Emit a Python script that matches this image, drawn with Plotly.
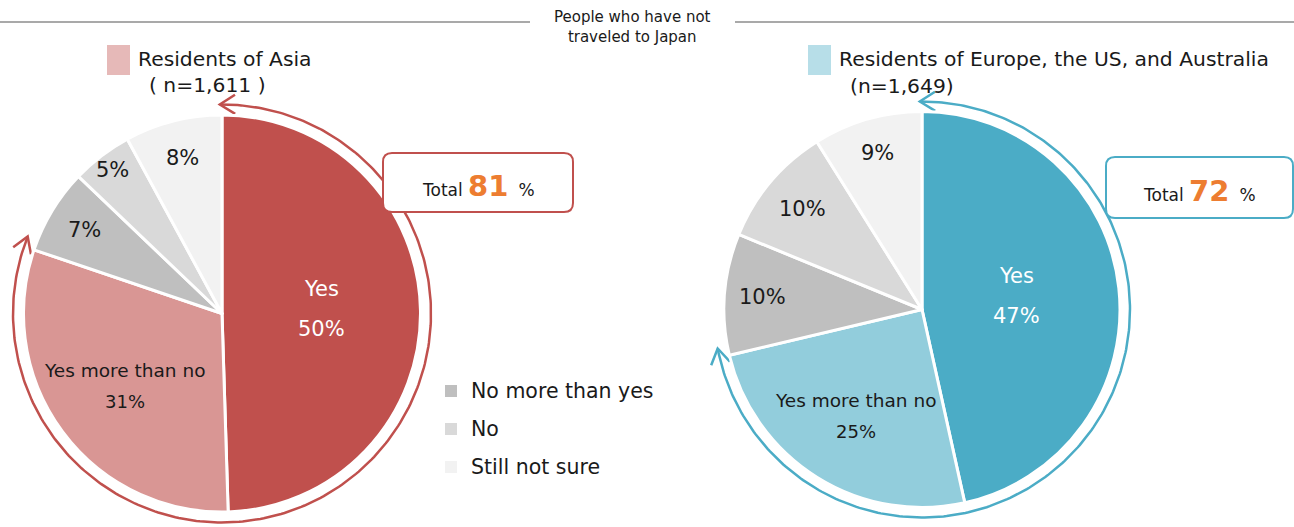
import numpy as np
import plotly.graph_objects as go

W, H = 1294, 527

# ---- data ----
labels = ['Yes', 'Yes more than no', 'No more than yes', 'No', 'Still not sure']
asia_vals = [50, 31, 7, 5, 8]
euro_vals = [47, 25, 10, 10, 9]
asia_total = 81
euro_total = 72
asia_title = 'Residents of Asia'
euro_title = 'Residents of Europe, the US, and Australia'
asia_n = '( n=1,611 )'
euro_n = '(n=1,649)'
header = 'People who have not<br>traveled to Japan'
legend_labels = labels[2:]

# ---- styles ----
FONT = 'DejaVu Sans'
grays = ['#BFBFBF', '#D9D9D9', '#F2F2F2']
asia_cols = ['#C0504D', '#D99694'] + grays
euro_cols = ['#4BACC6', '#92CDDC'] + grays
asia_key = '#E6B9B8'
euro_key = '#B7DEE8'
orange = '#ED7D31'
ink = '#1a1a1a'

pies = [
    dict(vals=asia_vals, cols=asia_cols, cx=222, cy=313.5, r=198.5, arc_r=209,
         total=asia_total, frac=[0.5, 0.61, 0.81, 0.91, 0.81],
         box=(383, 153, 573, 212)),
    dict(vals=euro_vals, cols=euro_cols, cx=922, cy=309.5, r=198, arc_r=208,
         total=euro_total, frac=[0.48, 0.63, 0.81, 0.79, 0.82],
         box=(1106, 157, 1293, 218)),
]


def dom(cx, cy, r):
    return dict(x=[(cx - r) / W, (cx + r) / W],
                y=[1 - (cy + r) / H, 1 - (cy - r) / H])


def rounded_box(x0, y0, x1, y1, rad=9):
    return (f'M{x0+rad},{y0} L{x1-rad},{y0} Q{x1},{y0} {x1},{y0+rad} '
            f'L{x1},{y1-rad} Q{x1},{y1} {x1-rad},{y1} L{x0+rad},{y1} '
            f'Q{x0},{y1} {x0},{y1-rad} L{x0},{y0+rad} Q{x0},{y0} {x0+rad},{y0} Z')


fig = go.Figure()
annotations = []
shapes = []

for p in pies:
    fig.add_trace(go.Pie(
        labels=labels, values=p['vals'], sort=False, direction='clockwise',
        rotation=0, textinfo='none', hoverinfo='label+percent',
        marker=dict(colors=p['cols'], line=dict(color='white', width=3)),
        domain=dom(p['cx'], p['cy'], p['r']), showlegend=False))

    # slice labels
    vals = np.array(p['vals'], dtype=float)
    tot = vals.sum()
    cum = np.cumsum(vals) - vals / 2
    for i, v in enumerate(p['vals']):
        th = np.radians(cum[i] / tot * 360)
        fr = p['frac'][i]
        x = p['cx'] + fr * p['r'] * np.sin(th)
        y = p['cy'] - fr * p['r'] * np.cos(th)
        if i == 0:
            annotations.append(dict(x=x, y=y - 23, text=labels[i], font=dict(size=21, color='white')))
            annotations.append(dict(x=x, y=y + 17, text=f'{v}%', font=dict(size=21, color='white')))
        elif i == 1:
            annotations.append(dict(x=x, y=y - 15, text=labels[i], font=dict(size=18.5, color=ink)))
            annotations.append(dict(x=x, y=y + 16, text=f'{v}%', font=dict(size=18, color=ink)))
        else:
            annotations.append(dict(x=x, y=y, text=f'{v}%', font=dict(size=21, color=ink)))

    # double-headed arc around the "yes" share
    a0 = np.radians(-0.6)
    a1 = np.radians(p['total'] / 100 * 360)
    th = np.linspace(a0, a1, 300)
    R = p['arc_r']
    ax_ = p['cx'] + R * np.sin(th)
    ay_ = p['cy'] - R * np.cos(th)
    col = p['cols'][0]
    fig.add_trace(go.Scatter(x=ax_, y=ay_, mode='lines', line=dict(color=col, width=2.5),
                             hoverinfo='skip', showlegend=False))
    for a, sgn in [(a0, -1), (a1, 1)]:
        tip = np.array([p['cx'] + R * np.sin(a), p['cy'] - R * np.cos(a)])
        d = sgn * np.array([np.cos(a), np.sin(a)])
        back = -d
        L = 18
        wx, wy = [], []
        for ang in (np.radians(32), np.radians(-32)):
            rot = np.array([back[0] * np.cos(ang) - back[1] * np.sin(ang),
                            back[0] * np.sin(ang) + back[1] * np.cos(ang)])
            w = tip + L * rot
            wx += [w[0], tip[0]]
            wy += [w[1], tip[1]]
        fig.add_trace(go.Scatter(x=wx[:3], y=wy[:3], mode='lines',
                                 line=dict(color=col, width=2.5),
                                 hoverinfo='skip', showlegend=False))

    # total box
    x0, y0, x1, y1 = p['box']
    shapes.append(dict(type='path', path=rounded_box(x0, y0, x1, y1), xref='x', yref='y',
                       line=dict(color=col, width=2), fillcolor='white', layer='above'))
    annotations.append(dict(
        x=(x0 + x1) / 2, y=(y0 + y1) / 2 + 3,
        text=(f'Total <b><span style="font-size:29px;color:{orange}">{p["total"]} </span></b>%'),
        font=dict(size=17, color=ink)))

# legend (gray categories)
leg_y = [391, 429, 467]
fig.add_trace(go.Scatter(x=[451] * 3, y=leg_y, mode='markers',
                         marker=dict(symbol='square', size=12, color=grays),
                         hoverinfo='skip', showlegend=False))
for lab, y in zip(legend_labels, leg_y):
    annotations.append(dict(x=469, y=y, text=lab, xanchor='left', font=dict(size=20.5, color=ink)))

# group titles
for (sx, title, ntxt, key, ny) in [(107, asia_title, asia_n, asia_key, 85),
                                   (808, euro_title, euro_n, euro_key, 86)]:
    shapes.append(dict(type='rect', x0=sx, x1=sx + 23, y0=45, y1=75, xref='x', yref='y',
                       fillcolor=key, line=dict(width=0)))
    annotations.append(dict(x=sx + 29, y=59, text=title, xanchor='left',
                            font=dict(size=20.3, color=ink)))
    annotations.append(dict(x=sx + 40, y=ny, text=ntxt, xanchor='left',
                            font=dict(size=20.3, color=ink)))

# header
shapes.append(dict(type='line', x0=0, x1=530, y0=22, y1=22, xref='x', yref='y',
                   line=dict(color='#8c8c8c', width=1.5)))
shapes.append(dict(type='line', x0=735, x1=W, y0=22, y1=22, xref='x', yref='y',
                   line=dict(color='#8c8c8c', width=1.5)))
annotations.append(dict(x=632, y=27, text=header, font=dict(size=15, color=ink)))

for a in annotations:
    a.setdefault('xref', 'x')
    a.setdefault('yref', 'y')
    a.setdefault('showarrow', False)

fig.update_layout(
    width=W, height=H,
    margin=dict(l=0, r=0, t=0, b=0),
    paper_bgcolor='white', plot_bgcolor='rgba(0,0,0,0)',
    font=dict(family=FONT, color=ink),
    xaxis=dict(range=[0, W], visible=False, fixedrange=True),
    yaxis=dict(range=[H, 0], visible=False, fixedrange=True),
    shapes=shapes, annotations=annotations,
)

fig.write_html('out.html', config=dict(displayModeBar=False),
               post_script="document.body.style.margin='0';")
